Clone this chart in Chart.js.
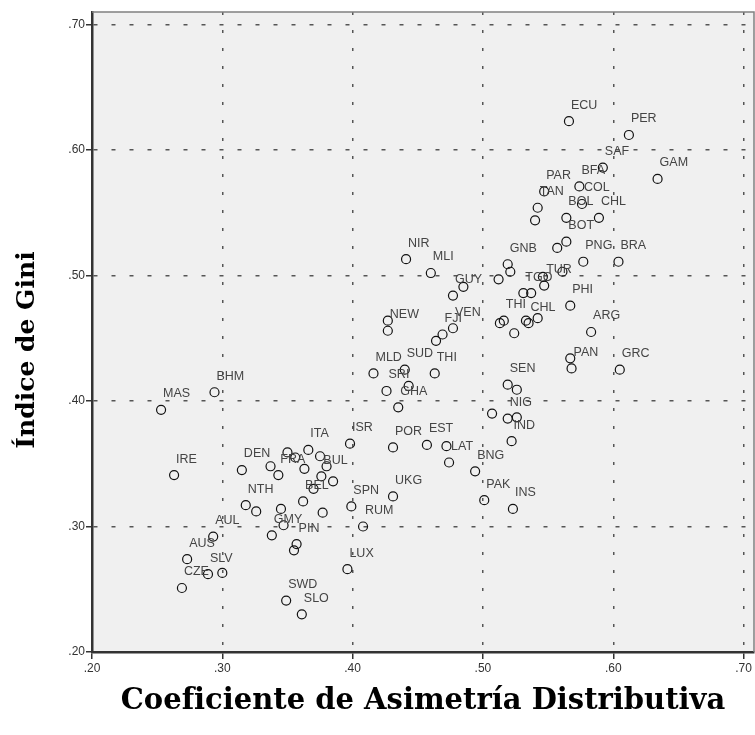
<!DOCTYPE html>
<html lang="es">
<head>
<meta charset="UTF-8">
<title>Índice de Gini vs Coeficiente de Asimetría Distributiva</title>
<script src="https://cdn.jsdelivr.net/npm/chart.js"></script>
<style>
  html, body { margin: 0; padding: 0; background: #fff; }
  #wrap { width: 755px; height: 735px; }
</style>
</head>
<body>
<div id="wrap"><canvas id="gini"></canvas></div>
<script>
// country codes ('' = no visible label)
const countries = [
  'ECU','PER','SAF','BFA','GAM','PAR','COL','TAN','BOL','CHL',
  '','BOT','','PNG','BRA','GNB','NIR','MLI','GUY','',
  '','','TGO','','TUR','','','PHI','ARG','PAN',
  '','GRC','SEN','','NIG','','','IND','INS','PAK',
  'BNG','LAT','','EST','POR','ISR','UKG','SPN','RUM','LUX',
  'SWD','SLO','GHA','SRI','','MLD','SUD','THI','NEW','',
  'VEN','FJI','','','THI','','CHL','','','BHM',
  'MAS','IRE','DEN','','FRA','','','ITA','','',
  '','BUL','','BEL','','NTH','','','GMY','',
  '','PIN','','AUL','AUS','SLV','','CZE'
];
// Coeficiente de Asimetría Distributiva
const asimetria = [
  .566,.612,.592,.574,.634,.547,.576,.542,.564,.589,
  .540,.564,.557,.577,.604,.519,.441,.460,.477,.485,
  .512,.521,.531,.537,.547,.546,.561,.567,.583,.568,
  .567,.605,.519,.526,.519,.526,.507,.522,.523,.501,
  .494,.474,.472,.457,.431,.398,.431,.399,.408,.396,
  .349,.361,.435,.426,.443,.416,.440,.463,.427,.427,
  .477,.469,.464,.513,.516,.524,.535,.542,.533,.294,
  .253,.263,.315,.337,.343,.350,.356,.366,.363,.375,
  .380,.376,.385,.362,.370,.318,.326,.345,.338,.347,
  .377,.357,.355,.293,.273,.289,.300,.269
];
// Índice de Gini
const gini = [
  .623,.612,.586,.571,.577,.567,.557,.554,.546,.546,
  .544,.527,.522,.511,.511,.509,.513,.502,.484,.491,
  .497,.503,.486,.486,.492,.499,.503,.476,.455,.426,
  .434,.425,.413,.409,.386,.387,.390,.368,.314,.321,
  .344,.351,.364,.365,.363,.366,.324,.316,.300,.266,
  .241,.230,.395,.408,.412,.422,.425,.422,.456,.464,
  .458,.453,.448,.462,.464,.454,.462,.466,.464,.407,
  .393,.341,.345,.348,.341,.359,.355,.361,.346,.356,
  .348,.340,.336,.320,.330,.317,.312,.314,.293,.301,
  .311,.286,.281,.292,.274,.262,.263,.251
];
const xTicks = [0.20, 0.30, 0.40, 0.50, 0.60, 0.70];
const yTicks = [0.20, 0.30, 0.40, 0.50, 0.60, 0.70];
const xTitle = 'Coeficiente de Asimetría Distributiva';
const yTitle = 'Índice de Gini';

const fmt = v => v.toFixed(2).replace(/^0/, '');

// grey plot area + thin frame on top/right
const plotFrame = {
  id: 'plotFrame',
  beforeDraw(chart) {
    const { ctx, chartArea: a } = chart;
    ctx.save();
    ctx.fillStyle = '#f0f0f0';
    ctx.fillRect(a.left, a.top, a.right - a.left, a.bottom - a.top);
    ctx.restore();
  },
  afterDraw(chart) {
    const { ctx, chartArea: a } = chart;
    ctx.save();
    ctx.strokeStyle = '#808080';
    ctx.lineWidth = 1.5;
    ctx.beginPath();
    ctx.moveTo(a.left, a.top);
    ctx.lineTo(a.right, a.top);
    ctx.lineTo(a.right, a.bottom);
    ctx.stroke();
    ctx.restore();
  }
};

// country labels, up and right of each marker
const pointLabels = {
  id: 'pointLabels',
  afterDatasetsDraw(chart) {
    const { ctx } = chart;
    const meta = chart.getDatasetMeta(0);
    ctx.save();
    ctx.font = '12.5px "Liberation Sans", Arial, sans-serif';
    ctx.fillStyle = '#444';
    ctx.textAlign = 'left';
    ctx.textBaseline = 'middle';
    meta.data.forEach((pt, i) => {
      if (countries[i]) ctx.fillText(countries[i], pt.x + 2, pt.y - 16);
    });
    ctx.restore();
  }
};

const axisTitles = {
  id: 'axisTitles',
  afterDraw(chart) {
    const { ctx, chartArea: a } = chart;
    ctx.save();
    ctx.fillStyle = '#000';
    ctx.textAlign = 'center';
    ctx.textBaseline = 'middle';
    ctx.font = 'bold 29px "DejaVu Serif", serif';
    ctx.fillText(xTitle, (a.left + a.right) / 2, 701);
    ctx.font = 'bold 25px "DejaVu Serif", serif';
    ctx.translate(27, 350);
    ctx.rotate(-Math.PI / 2);
    ctx.fillText(yTitle, 0, 0);
    ctx.restore();
  }
};

new Chart(document.getElementById('gini'), {
  type: 'scatter',
  data: {
    datasets: [{
      label: 'Países',
      data: asimetria.map((x, i) => ({ x: x, y: gini[i] })),
      pointStyle: 'circle',
      pointRadius: 4.5,
      pointHoverRadius: 4.5,
      borderColor: '#111',
      borderWidth: 1.2,
      backgroundColor: 'rgba(0,0,0,0)'
    }]
  },
  options: {
    responsive: true,
    maintainAspectRatio: false,
    animation: false,
    layout: { autoPadding: false, padding: { top: 12, right: 1, left: 0, bottom: 0 } },
    plugins: { legend: { display: false }, tooltip: { enabled: false } },
    scales: {
      x: {
        type: 'linear',
        min: 0.2,
        max: 0.708,
        afterBuildTicks: s => { s.ticks = xTicks.map(v => ({ value: v })); },
        afterFit: s => { s.height = 83; },
        ticks: {
          callback: fmt,
          color: '#333',
          font: { family: '"Liberation Sans", Arial, sans-serif', size: 12 },
          padding: 2,
          maxRotation: 0
        },
        grid: {
          color: '#555',
          lineWidth: 1.5,
          tickColor: '#333',
          tickLength: 7,
          tickWidth: 1.5
        },
        border: { display: true, color: '#333', width: 2.5, dash: [3, 15] }
      },
      y: {
        type: 'linear',
        min: 0.2,
        max: 0.71,
        afterBuildTicks: s => { s.ticks = yTicks.map(v => ({ value: v })); },
        afterFit: s => { s.width = 92; },
        ticks: {
          callback: fmt,
          color: '#333',
          font: { family: '"Liberation Sans", Arial, sans-serif', size: 12 },
          padding: 1
        },
        grid: {
          color: '#555',
          lineWidth: 1.5,
          tickColor: '#333',
          tickLength: 6,
          tickWidth: 1.5
        },
        border: { display: true, color: '#333', width: 2.5, dash: [4, 14] }
      }
    }
  },
  plugins: [plotFrame, pointLabels, axisTitles]
});
</script>
</body>
</html>
